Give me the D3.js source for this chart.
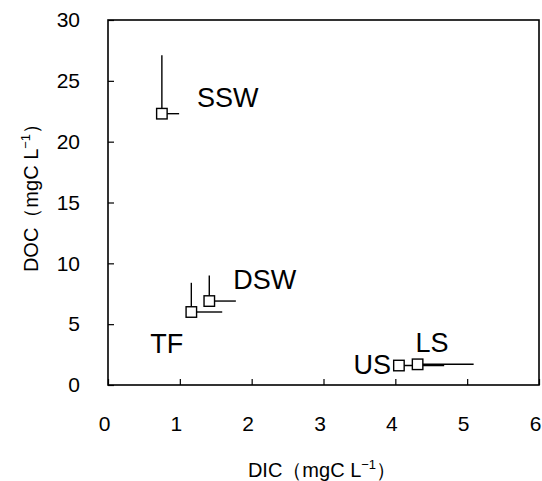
<!DOCTYPE html>
<html>
<head>
<meta charset="utf-8">
<script src="https://cdn.jsdelivr.net/npm/d3@7"></script>
<style>
  html, body { margin: 0; padding: 0; background: #fff; }
  svg { display: block; font-family: "Liberation Sans", Arial, sans-serif; }
</style>
</head>
<body>
<svg id="chart" width="542" height="481"></svg>
<script>
// Water types and their mean DIC / DOC with one-sided error bars
const sites  = ["SSW", "DSW", "TF", "US", "LS"];
const dic    = [0.75, 1.41, 1.16, 4.05, 4.31];
const doc    = [22.3, 6.9, 6.0, 1.6, 1.7];
const dicErr = [0.24, 0.37, 0.43, 0.63, 0.78];
const docErr = [4.8, 2.1, 2.4, 0.2, 0.2];

const xTicks = [0, 1, 2, 3, 4, 5, 6];
const yTicks = [0, 5, 10, 15, 20, 25, 30];

// Label placement relative to each marker (pixels)
const labelOffset = {
  SSW: { dx: 35,  dy: -7,  anchor: "start" },
  DSW: { dx: 24,  dy: -12, anchor: "start" },
  TF:  { dx: -41, dy: 41,  anchor: "start" },
  US:  { dx: -8,  dy: 8,   anchor: "end" },
  LS:  { dx: -2,  dy: -12, anchor: "start" }
};

const svg = d3.select("#chart");
const plot = { left: 108, right: 539, top: 20, bottom: 385 };

const x = d3.scaleLinear().domain([0, 6]).range([plot.left, plot.right]);
const y = d3.scaleLinear().domain([0, 30]).range([plot.bottom, plot.top]);

// Axes with inward ticks
const xAxis = d3.axisBottom(x).tickValues(xTicks).tickSizeInner(-6).tickSizeOuter(0).tickPadding(31).tickFormat(d3.format("d"));
const yAxis = d3.axisLeft(y).tickValues(yTicks).tickSizeInner(-6).tickSizeOuter(0).tickPadding(28).tickFormat(d3.format("d"));

const gx = svg.append("g").attr("transform", `translate(0,${plot.bottom})`).call(xAxis);
const gy = svg.append("g").attr("transform", `translate(${plot.left},0)`).call(yAxis);
[gx, gy].forEach(g => {
  g.attr("font-size", 21).attr("font-family", "Liberation Sans, Arial, sans-serif");
  g.select(".domain").remove();
  g.selectAll(".tick line").attr("stroke", "#000").attr("stroke-width", 1.2);
  g.selectAll(".tick text").attr("fill", "#000").style("font-size", "21px");
});
gx.selectAll(".tick text").attr("dx", -4);

// Plot frame
svg.append("rect")
  .attr("x", plot.left).attr("y", plot.top)
  .attr("width", plot.right - plot.left).attr("height", plot.bottom - plot.top)
  .attr("fill", "none").attr("stroke", "#000").attr("stroke-width", 1.6);

// Axis titles
const xTitle = svg.append("text")
  .attr("x", 322).attr("y", 477)
  .attr("text-anchor", "middle").style("font-size", "20px").attr("fill", "#000");
xTitle.append("tspan").text("DIC\uFF08mgC L");
xTitle.append("tspan").style("font-size", "13px").attr("dy", -8).text("\u22121");
xTitle.append("tspan").attr("dy", 8).text("\uFF09");

const yTitle = svg.append("text")
  .attr("transform", `translate(38,193) rotate(-90)`)
  .attr("text-anchor", "middle").style("font-size", "20px").attr("fill", "#000");
yTitle.append("tspan").text("DOC\uFF08mgC L");
yTitle.append("tspan").style("font-size", "13px").attr("dy", -8).text("\u22121");
yTitle.append("tspan").attr("dy", 8).text("\uFF09");

const data = sites.map((s, i) => ({ site: s, dic: dic[i], doc: doc[i], ex: dicErr[i], ey: docErr[i] }));

// Error bars (positive side only)
const bars = svg.append("g").attr("stroke", "#000").attr("stroke-width", 1.4);
bars.selectAll(".ex").data(data).join("line")
  .attr("x1", d => x(d.dic)).attr("x2", d => x(d.dic + d.ex))
  .attr("y1", d => y(d.doc)).attr("y2", d => y(d.doc));
bars.selectAll(".ey").data(data).join("line")
  .attr("x1", d => x(d.dic)).attr("x2", d => x(d.dic))
  .attr("y1", d => y(d.doc)).attr("y2", d => y(d.doc + d.ey));

// Square markers
const s = 10.5;
svg.append("g").selectAll("rect").data(data).join("rect")
  .attr("x", d => x(d.dic) - s / 2).attr("y", d => y(d.doc) - s / 2)
  .attr("width", s).attr("height", s)
  .attr("fill", "#fff").attr("stroke", "#000").attr("stroke-width", 1.4);

// Site labels
svg.append("g").selectAll("text").data(data).join("text")
  .attr("x", d => x(d.dic) + labelOffset[d.site].dx)
  .attr("y", d => y(d.doc) + labelOffset[d.site].dy)
  .attr("text-anchor", d => labelOffset[d.site].anchor)
  .style("font-size", "27px").attr("fill", "#000")
  .text(d => d.site);
</script>
</body>
</html>
